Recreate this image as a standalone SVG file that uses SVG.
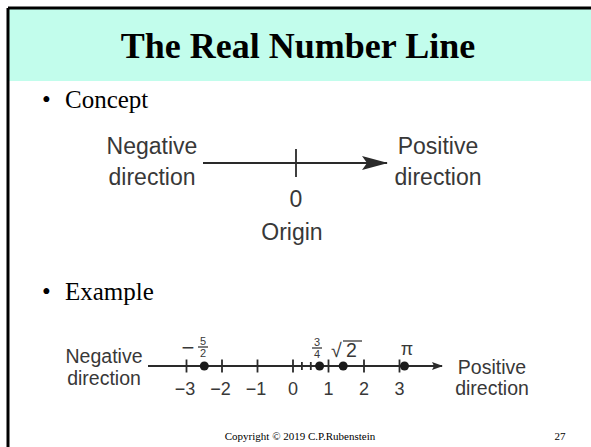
<svg xmlns="http://www.w3.org/2000/svg" width="591" height="447" viewBox="0 0 591 447">
<style>
.title{font-family:"Liberation Serif",serif;font-weight:bold;font-size:36px;fill:#000}
.bul{font-family:"Liberation Serif",serif;font-size:25px;fill:#000}
.lab{font-family:"Liberation Sans",Arial,sans-serif;font-size:23px;fill:#383838}
.lab2{font-family:"Liberation Sans",Arial,sans-serif;font-size:19.5px;fill:#383838}
.num{font-family:"Liberation Sans",Arial,sans-serif;font-size:18px;fill:#383838}
.frac{font-family:"Liberation Sans",Arial,sans-serif;font-size:11px;fill:#383838}
.foot{font-family:"Liberation Serif",serif;font-size:11px;fill:#000}
.ax{stroke:#2a2a2a;stroke-width:2;fill:none}
.tk{stroke:#2a2a2a;stroke-width:1.8}
.dot{fill:#1a1a1a}
</style>
<defs>
<marker id="ah" markerWidth="11" markerHeight="8" refX="10" refY="4" orient="auto" markerUnits="userSpaceOnUse">
<path d="M0,0 L11,4 L0,8 L2,4 Z" fill="#2a2a2a"/>
</marker>
<marker id="ahBig" markerWidth="26" markerHeight="14" refX="25" refY="7" orient="auto" markerUnits="userSpaceOnUse">
<path d="M0,0 L26,7 L0,14 L5,7 Z" fill="#2a2a2a"/>
</marker>
</defs>
<rect x="0" y="0" width="591" height="447" fill="#fff"/>
<rect x="9" y="9" width="582" height="72" fill="#c2fdec"/>
<g id="frame">
<line x1="8" y1="8" x2="591" y2="8" stroke="#000" stroke-width="3"/>
<line x1="8" y1="8" x2="8" y2="447" stroke="#000" stroke-width="3"/>
</g>
<g id="title"><text class="title" x="298" y="58" text-anchor="middle">The Real Number Line</text></g>
<g id="bullet-concept"><text class="bul" x="42" y="108">•</text><text class="bul" x="65" y="108">Concept</text></g>
<g id="bullet-example"><text class="bul" x="42" y="300">•</text><text class="bul" x="65" y="300">Example</text></g>

<g id="concept-neg"><text class="lab" x="152" y="154" text-anchor="middle">Negative</text><text class="lab" x="152" y="185" text-anchor="middle">direction</text></g>
<g id="concept-pos"><text class="lab" x="438" y="154" text-anchor="middle">Positive</text><text class="lab" x="438" y="185" text-anchor="middle">direction</text></g>
<g id="concept-origin"><text class="lab" x="296" y="207" text-anchor="middle">0</text><text class="lab" x="292" y="240" text-anchor="middle">Origin</text></g>

<g id="example-neg"><text class="lab2" x="104" y="363" text-anchor="middle">Negative</text><text class="lab2" x="104" y="385" text-anchor="middle">direction</text></g>
<g id="example-pos"><text class="lab2" x="492" y="374" text-anchor="middle">Positive</text><text class="lab2" x="492" y="395" text-anchor="middle">direction</text></g>

<g id="connectors">
<line class="ax" x1="203" y1="163" x2="387" y2="163" marker-end="url(#ahBig)"/>
<line class="tk" x1="296" y1="149" x2="296" y2="177"/>
<line class="ax" x1="148" y1="366" x2="442" y2="366" marker-end="url(#ah)"/>
<g class="tk">
<line x1="186.5" y1="359.5" x2="186.5" y2="372.5"/>
<line x1="222" y1="359.5" x2="222" y2="372.5"/>
<line x1="257.5" y1="359.5" x2="257.5" y2="372.5"/>
<line x1="293" y1="359.5" x2="293" y2="372.5"/>
<line x1="301.9" y1="362" x2="301.9" y2="370"/>
<line x1="310.8" y1="362" x2="310.8" y2="370"/>
<line x1="328.5" y1="359.5" x2="328.5" y2="372.5"/>
<line x1="364" y1="359.5" x2="364" y2="372.5"/>
<line x1="399.5" y1="359.5" x2="399.5" y2="372.5"/>
</g>
<circle class="dot" cx="204.3" cy="366" r="4.5"/>
<circle class="dot" cx="319.6" cy="366" r="4.5"/>
<circle class="dot" cx="343.2" cy="366" r="4.5"/>
<circle class="dot" cx="404.5" cy="366" r="4.5"/>
</g>
<g id="example-ticks">
<text class="num" x="185" y="395" text-anchor="middle">−3</text>
<text class="num" x="220.5" y="395" text-anchor="middle">−2</text>
<text class="num" x="256" y="395" text-anchor="middle">−1</text>
<text class="num" x="293" y="395" text-anchor="middle">0</text>
<text class="num" x="328.5" y="395" text-anchor="middle">1</text>
<text class="num" x="364" y="395" text-anchor="middle">2</text>
<text class="num" x="399.5" y="395" text-anchor="middle">3</text>
</g>
<g id="example-values">
<text x="188" y="355" text-anchor="middle" style="font-family:'Liberation Sans',Arial,sans-serif;font-size:22px;fill:#383838">−</text>
<text class="frac" x="203" y="345" text-anchor="middle">5</text>
<line x1="198" y1="347" x2="208" y2="347" stroke="#383838" stroke-width="1.3"/>
<text class="frac" x="203" y="357" text-anchor="middle">2</text>
<text class="frac" x="317" y="346" text-anchor="middle">3</text>
<line x1="312" y1="348" x2="322" y2="348" stroke="#383838" stroke-width="1.3"/>
<text class="frac" x="317" y="358" text-anchor="middle">4</text>
<text class="lab2" x="331" y="357">√</text>
<line x1="343" y1="341" x2="362" y2="341" stroke="#383838" stroke-width="1.3"/>
<text class="lab2" x="346" y="357">2</text>
<text class="num" x="407" y="355" text-anchor="middle">π</text>
</g>
<g id="footer">
<text class="foot" x="300" y="440" text-anchor="middle">Copyright © 2019 C.P.Rubenstein</text>
<text class="foot" x="560" y="440" text-anchor="middle">27</text>
</g>
</svg>
